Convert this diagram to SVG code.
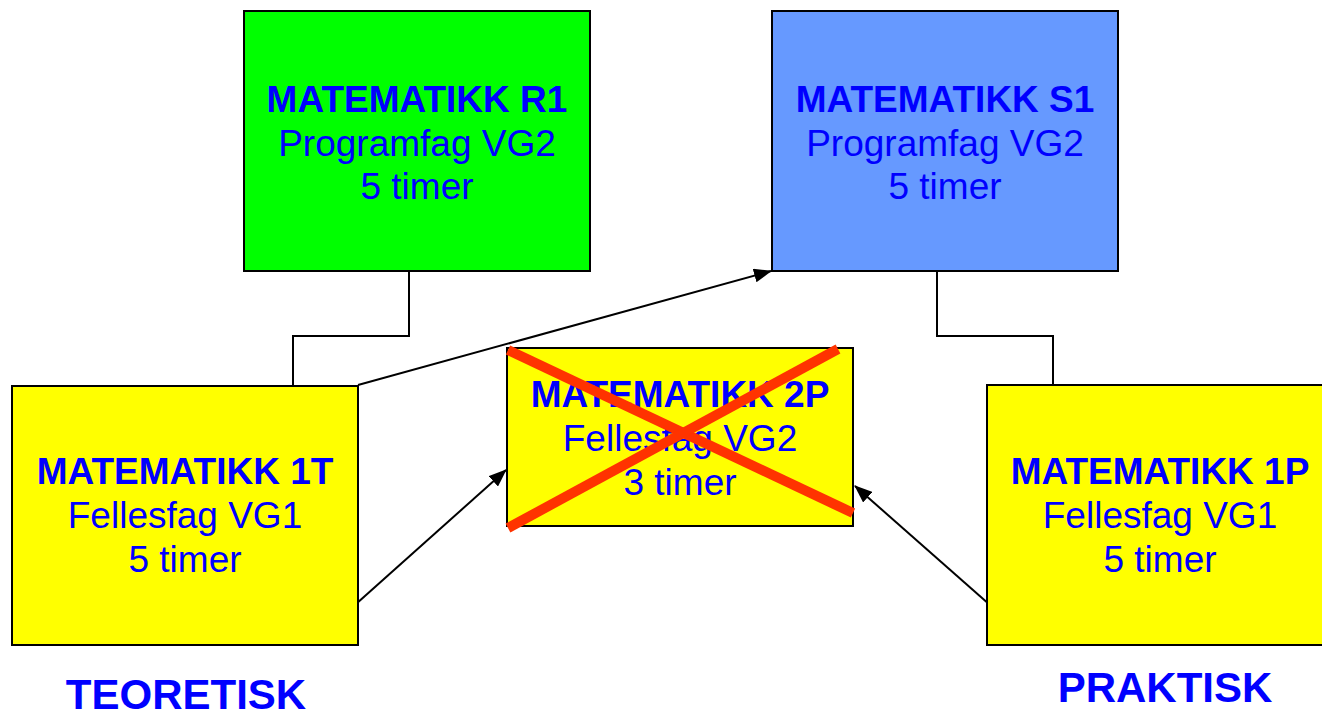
<svg xmlns="http://www.w3.org/2000/svg" width="1322" height="714" viewBox="0 0 1322 714">
<style>
.box{stroke:#000;stroke-width:2}
.t{font-family:"Liberation Sans",Arial,sans-serif;font-size:37px;fill:#0000FF;text-anchor:middle}
.b{font-weight:bold}
.lbl{font-family:"Liberation Sans",Arial,sans-serif;font-size:42px;font-weight:bold;fill:#0000FF;text-anchor:middle}
.c{fill:none;stroke:#000;stroke-width:2}
.x{stroke:#FF3300;stroke-width:10}
</style>
<defs>
<marker id="ah" viewBox="0 0 18 14" refX="17" refY="7" markerWidth="18" markerHeight="14" markerUnits="userSpaceOnUse" orient="auto">
<path d="M0,0 L18,7 L0,14 z" fill="#000"/>
</marker>
</defs>
<rect width="1322" height="714" fill="#fff"/>
<g id="connectors">
<polyline class="c" points="409,271 409,336 293,336 293,386"/>
<polyline class="c" points="937,271 937,336 1053,336 1053,385"/>
<line class="c" x1="358" y1="385" x2="771" y2="271" marker-end="url(#ah)"/>
<line class="c" x1="356" y1="604" x2="506" y2="470" marker-end="url(#ah)"/>
<line class="c" x1="990" y1="605" x2="855" y2="486" marker-end="url(#ah)"/>
</g>
<g id="r1">
<rect class="box" x="244" y="11" width="346" height="260" fill="#00FF00"/>
<text class="t b" x="417" y="112">MATEMATIKK R1</text>
<text class="t" x="417" y="156">Programfag VG2</text>
<text class="t" x="417" y="199">5 timer</text>
</g>
<g id="s1">
<rect class="box" x="772" y="11" width="346" height="260" fill="#6699FF"/>
<text class="t b" x="945" y="112">MATEMATIKK S1</text>
<text class="t" x="945" y="156">Programfag VG2</text>
<text class="t" x="945" y="199">5 timer</text>
</g>
<g id="t1">
<rect class="box" x="12" y="386" width="346" height="259" fill="#FFFF00"/>
<text class="t b" x="185" y="484">MATEMATIKK 1T</text>
<text class="t" x="185" y="528">Fellesfag VG1</text>
<text class="t" x="185" y="572">5 timer</text>
</g>
<g id="p2">
<rect class="box" x="507" y="348" width="346" height="178" fill="#FFFF00"/>
<text class="t b" x="680" y="407">MATEMATIKK 2P</text>
<text class="t" x="680" y="451">Fellesfag VG2</text>
<text class="t" x="680" y="495">3 timer</text>
<line class="x" x1="508" y1="350" x2="853" y2="513"/>
<line class="x" x1="508" y1="528" x2="838" y2="349"/>
</g>
<g id="p1">
<rect class="box" x="987" y="385" width="346" height="260" fill="#FFFF00"/>
<text class="t b" x="1160" y="484">MATEMATIKK 1P</text>
<text class="t" x="1160" y="528">Fellesfag VG1</text>
<text class="t" x="1160" y="572">5 timer</text>
</g>
<g id="labels">
<text class="lbl" x="186" y="709">TEORETISK</text>
<text class="lbl" x="1165" y="702">PRAKTISK</text>
</g>
</svg>
